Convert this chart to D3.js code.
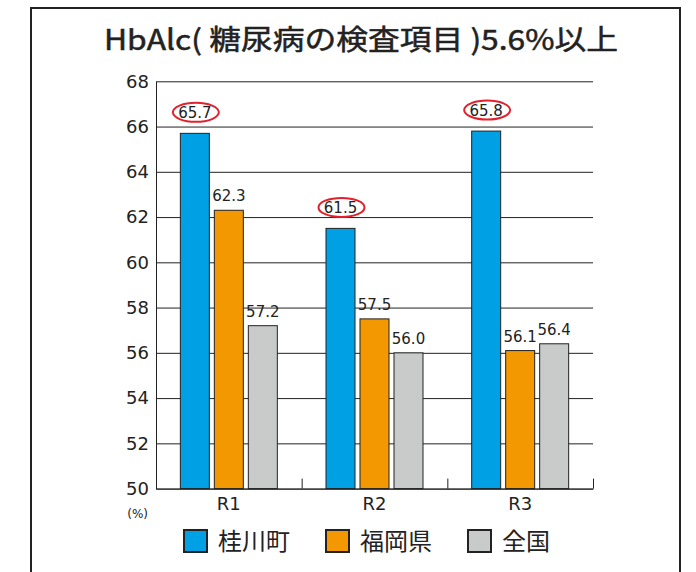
<!DOCTYPE html>
<meta charset="utf-8">
<style>
    body { margin: 0; background: #fff; }
    .grid line { stroke: #222; stroke-width: 1; }
    .grid path { display: none; }
    .axis text { font-family: "DejaVu Sans", sans-serif; fill: #222; }
    .bar { stroke: #222; stroke-width: 1; }
    .label { font-family: "DejaVu Sans", sans-serif; font-size: 15px; fill: #222; text-anchor: middle; }
</style>
<svg width="696" height="572"></svg>
<script src="https://cdn.jsdelivr.net/npm/d3@7"></script>
<script>

    var categories = ["R1", "R2", "R3"];
    var seriesNames = ["桂川町", "福岡県", "全国"];
    var seriesColors = ["#00a0e4", "#f39800", "#c9caca"];
    var katsuragawa = [65.7, 61.5, 65.8];
    var fukuoka = [62.3, 57.5, 56.1];
    var zenkoku = [57.2, 56.0, 56.4];
    var yTicks = [50, 52, 54, 56, 58, 60, 62, 64, 66, 68];

    var seriesValues = [katsuragawa, fukuoka, zenkoku];

    var svg = d3.select("svg"),
        margin = {top: 81.3, left: 156, right: 103, bottom: 83.4},
        width = +svg.attr("width") - margin.left - margin.right,
        height = +svg.attr("height") - margin.top - margin.bottom;

    // frame (open at the bottom)
    svg.append("path")
        .attr("d", "M31,572V8H680V572")
        .attr("fill", "none")
        .attr("stroke", "#222")
        .attr("stroke-width", 2);

    svg.append("text")
        .attr("x", 104)
        .attr("y", 50)
        .attr("textLength", 514)
        .attr("lengthAdjust", "spacingAndGlyphs")
        .style("font-family", "'Noto Sans CJK JP', sans-serif")
        .style("font-size", "28px")
        .style("font-weight", 400)
        .style("stroke", "#222")
        .style("stroke-width", 0.5)
        .style("fill", "#222")
        .text("HbAlc( 糖尿病の検査項目 )5.6%以上");

    var g = svg.append("g")
        .attr("transform", "translate(" + margin.left + "," + margin.top + ")");

    var x = d3.scaleBand()
        .domain(categories)
        .range([0, width]);

    var xInner = d3.scaleBand()
        .domain(d3.range(seriesNames.length))
        .range([0, x.bandwidth()])
        .paddingInner(0.147)
        .paddingOuter(0.716);

    var y = d3.scaleLinear()
        .domain([50, 68])
        .range([height, 0]);

    // gridlines
    g.append("g")
        .attr("class", "grid")
        .call(d3.axisLeft(y).tickValues(yTicks).tickSize(-width).tickFormat(""));

    // left axis
    g.append("g")
        .attr("class", "axis axis--y")
        .call(d3.axisLeft(y).tickValues(yTicks).tickSize(0).tickPadding(7))
        .call(function(a) {
            a.select(".domain").attr("stroke", "#222");
            a.selectAll("text").style("font-size", "18px");
        });

    var rows = [];
    categories.forEach(function(c, i) {
        seriesValues.forEach(function(vals, s) {
            rows.push({cat: c, s: s, v: vals[i]});
        });
    });

    g.selectAll(".bar")
        .data(rows)
        .enter().append("rect")
        .attr("class", "bar")
        .attr("x", function(d) { return x(d.cat) + xInner(d.s); })
        .attr("y", function(d) { return y(d.v); })
        .attr("width", xInner.bandwidth())
        .attr("height", function(d) { return height - y(d.v); })
        .attr("fill", function(d) { return seriesColors[d.s]; });

    // bottom axis with ticks at category boundaries
    var bx = d3.scaleLinear().domain([0, categories.length]).range([0, width]);
    g.append("g")
        .attr("class", "axis axis--x")
        .attr("transform", "translate(0," + height + ")")
        .call(d3.axisBottom(bx).ticks(3).tickSize(-10).tickSizeOuter(0).tickFormat(""))
        .call(function(a) {
            a.select(".domain").attr("stroke", "#222");
            a.selectAll(".tick line").attr("stroke", "#222");
        });

    g.selectAll(".cat")
        .data(categories)
        .enter().append("text")
        .attr("x", function(d) { return x(d) + x.bandwidth() / 2; })
        .attr("y", height + 21)
        .attr("text-anchor", "middle")
        .style("font-family", "'DejaVu Sans', sans-serif")
        .style("font-size", "18px")
        .style("fill", "#222")
        .text(function(d) { return d; });

    g.append("text")
        .attr("x", -8)
        .attr("y", height + 29)
        .attr("text-anchor", "end")
        .style("font-family", "'DejaVu Sans', sans-serif")
        .style("font-size", "12px")
        .style("fill", "#222")
        .text("(%)");

    // value labels
    g.selectAll(".label")
        .data(rows)
        .enter().append("text")
        .attr("class", "label")
        .attr("x", function(d) { return x(d.cat) + xInner(d.s) + xInner.bandwidth() / 2; })
        .attr("y", function(d) { return y(d.v) - (d.s === 0 ? 15 : 9); })
        .text(function(d) { return d.v.toFixed(1); });

    g.selectAll(".ring")
        .data(rows.filter(function(d) { return d.s === 0; }))
        .enter().append("ellipse")
        .attr("cx", function(d) { return x(d.cat) + xInner(d.s) + xInner.bandwidth() / 2 + 1; })
        .attr("cy", function(d) { return y(d.v) - 21; })
        .attr("rx", 23)
        .attr("ry", 9.5)
        .attr("fill", "none")
        .attr("stroke", "#e3202b")
        .attr("stroke-width", 2);

    // legend
    var legendX = [184, 326, 468];
    var legend = svg.selectAll(".legend")
        .data(seriesNames)
        .enter().append("g")
        .attr("transform", function(d, i) { return "translate(" + legendX[i] + ",530)"; });

    legend.append("rect")
        .attr("width", 23)
        .attr("height", 22)
        .attr("fill", function(d, i) { return seriesColors[i]; })
        .attr("stroke", "#222")
        .attr("stroke-width", 2);

    legend.append("text")
        .attr("x", 34)
        .attr("y", 20)
        .style("font-family", "'Noto Sans CJK JP', sans-serif")
        .style("font-size", "24px")
        .style("fill", "#222")
        .text(function(d) { return d; });
</script>
